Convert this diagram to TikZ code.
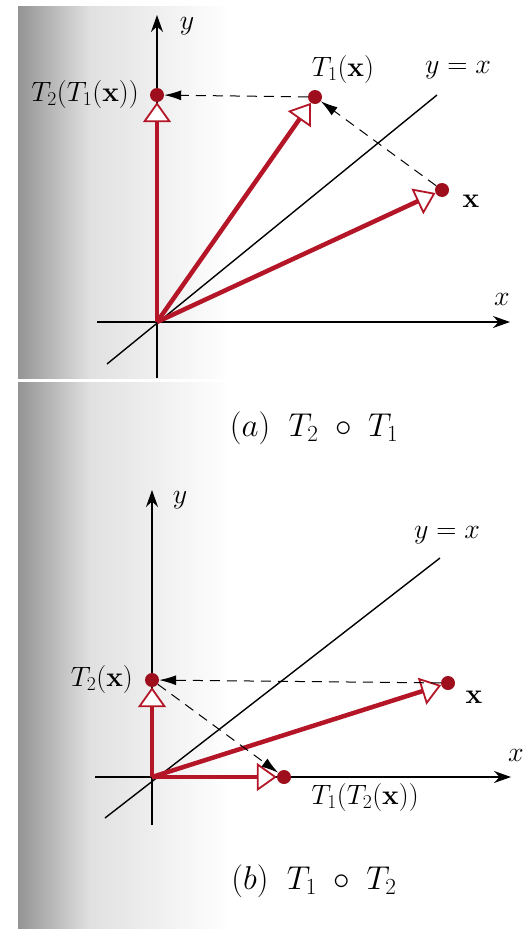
\RequirePackage{fix-cm}
\documentclass[tikz,border=0pt]{standalone}
\usetikzlibrary{arrows.meta}
\definecolor{vred}{RGB}{180,22,40}
\definecolor{dred}{RGB}{158,14,28}
\newcommand\lblfont{\fontsize{28}{32}\selectfont}
\newcommand\capfont{\fontsize{33}{38}\selectfont}
\tikzset{
  axis/.style={line width=1.4pt,-{Stealth[length=17pt,width=12pt]}},
  diag/.style={line width=1.4pt},
  vec/.style={draw=vred,line width=4.5pt,-{Triangle[length=20pt,width=28pt,line width=1.8pt,fill=white]}},
  dot/.style={circle,fill=dred,inner sep=0pt,minimum size=14pt},
  dsh/.style={line width=1pt,dash pattern=on 10pt off 7pt,-{Latex[length=17pt,width=10pt]}},
  lbl/.style={font=\lblfont,inner sep=1pt},
  captxt/.style={font=\capfont,inner sep=1pt}
}
\begin{document}
\begin{tikzpicture}[x=1pt,y=-1pt]
\useasboundingbox (0,0) rectangle (532,929);
% scan background
\fill[white] (0,0) rectangle (532,929);
\shade[left color=black!42,right color=black!12] (18,6) rectangle (90,929);
\shade[left color=black!12,right color=white] (90,6) rectangle (230,929);
\fill[white] (18,379) rectangle (532,382);

% ---------------- panel (a)
\coordinate (oa) at (157,322);
\coordinate (ya0) at (157,378);
\coordinate (ya1) at (157,15);
\coordinate (xa0) at (97,322);
\coordinate (xa1) at (510,322);
\coordinate (da0) at (107,364);
\coordinate (da1) at (437,95);
\draw[axis] (ya0) -- (ya1);
\draw[axis] (xa0) -- (xa1);
\draw[diag] (da0) -- (da1);
\node[dot] (xa) at (442,190) {};
\node[dot] (t1a) at (315,97) {};
\node[dot] (t21a) at (157,95) {};
\draw[vec] (oa) -- (xa);
\draw[vec] (oa) -- (t1a);
\draw[vec] (oa) -- (t21a);
\draw[dsh] (xa) -- (t1a);
\draw[dsh] (t1a) -- (t21a);
\node[lbl] (ylaba) at (187,26) {$y$};
\node[lbl] (xlaba) at (502,299) {$x$};
\node[lbl] (t1lab) at (343,69) {$T_1(\mathbf{x})$};
\node[lbl] (yxa) at (458,70) {$y = x$};
\node[lbl] (xla) at (471,201) {$\mathbf{x}$};
\node[lbl,anchor=east] (t21lab) at (140,94) {$T_2(T_1(\mathbf{x}))$};
\node[captxt] (capa) at (314,428) {$(a)\;\; T_2\;\circ\; T_1$};

% ---------------- panel (b)
\coordinate (ob) at (152,777);
\coordinate (yb0) at (152,825);
\coordinate (yb1) at (152,490);
\coordinate (xb0) at (95,777);
\coordinate (xb1) at (511,777);
\coordinate (db0) at (105,818);
\coordinate (db1) at (440,558);
\draw[axis] (yb0) -- (yb1);
\draw[axis] (xb0) -- (xb1);
\draw[diag] (db0) -- (db1);
\node[dot] (t2b) at (152,680) {};
\node[dot] (xb) at (448,683) {};
\node[dot] (t12b) at (284,777) {};
\draw[vec] (ob) -- (xb);
\draw[vec] (ob) -- (t2b);
\draw[vec] (ob) -- (t12b);
\draw[dsh] (xb) -- (t2b);
\draw[dsh] (t2b) -- (t12b);
\node[lbl] (ylabb) at (180,500) {$y$};
\node[lbl] (xlabb) at (516,755) {$x$};
\node[lbl] (yxb) at (447,535) {$y = x$};
\node[lbl,anchor=east] (t2lab) at (134,679) {$T_2(\mathbf{x})$};
\node[lbl] (xlb) at (474,697) {$\mathbf{x}$};
\node[lbl] (t12lab) at (365,797) {$T_1(T_2(\mathbf{x}))$};
\node[captxt] (capb) at (314,881) {$(b)\;\; T_1\;\circ\; T_2$};
\end{tikzpicture}
\end{document}
